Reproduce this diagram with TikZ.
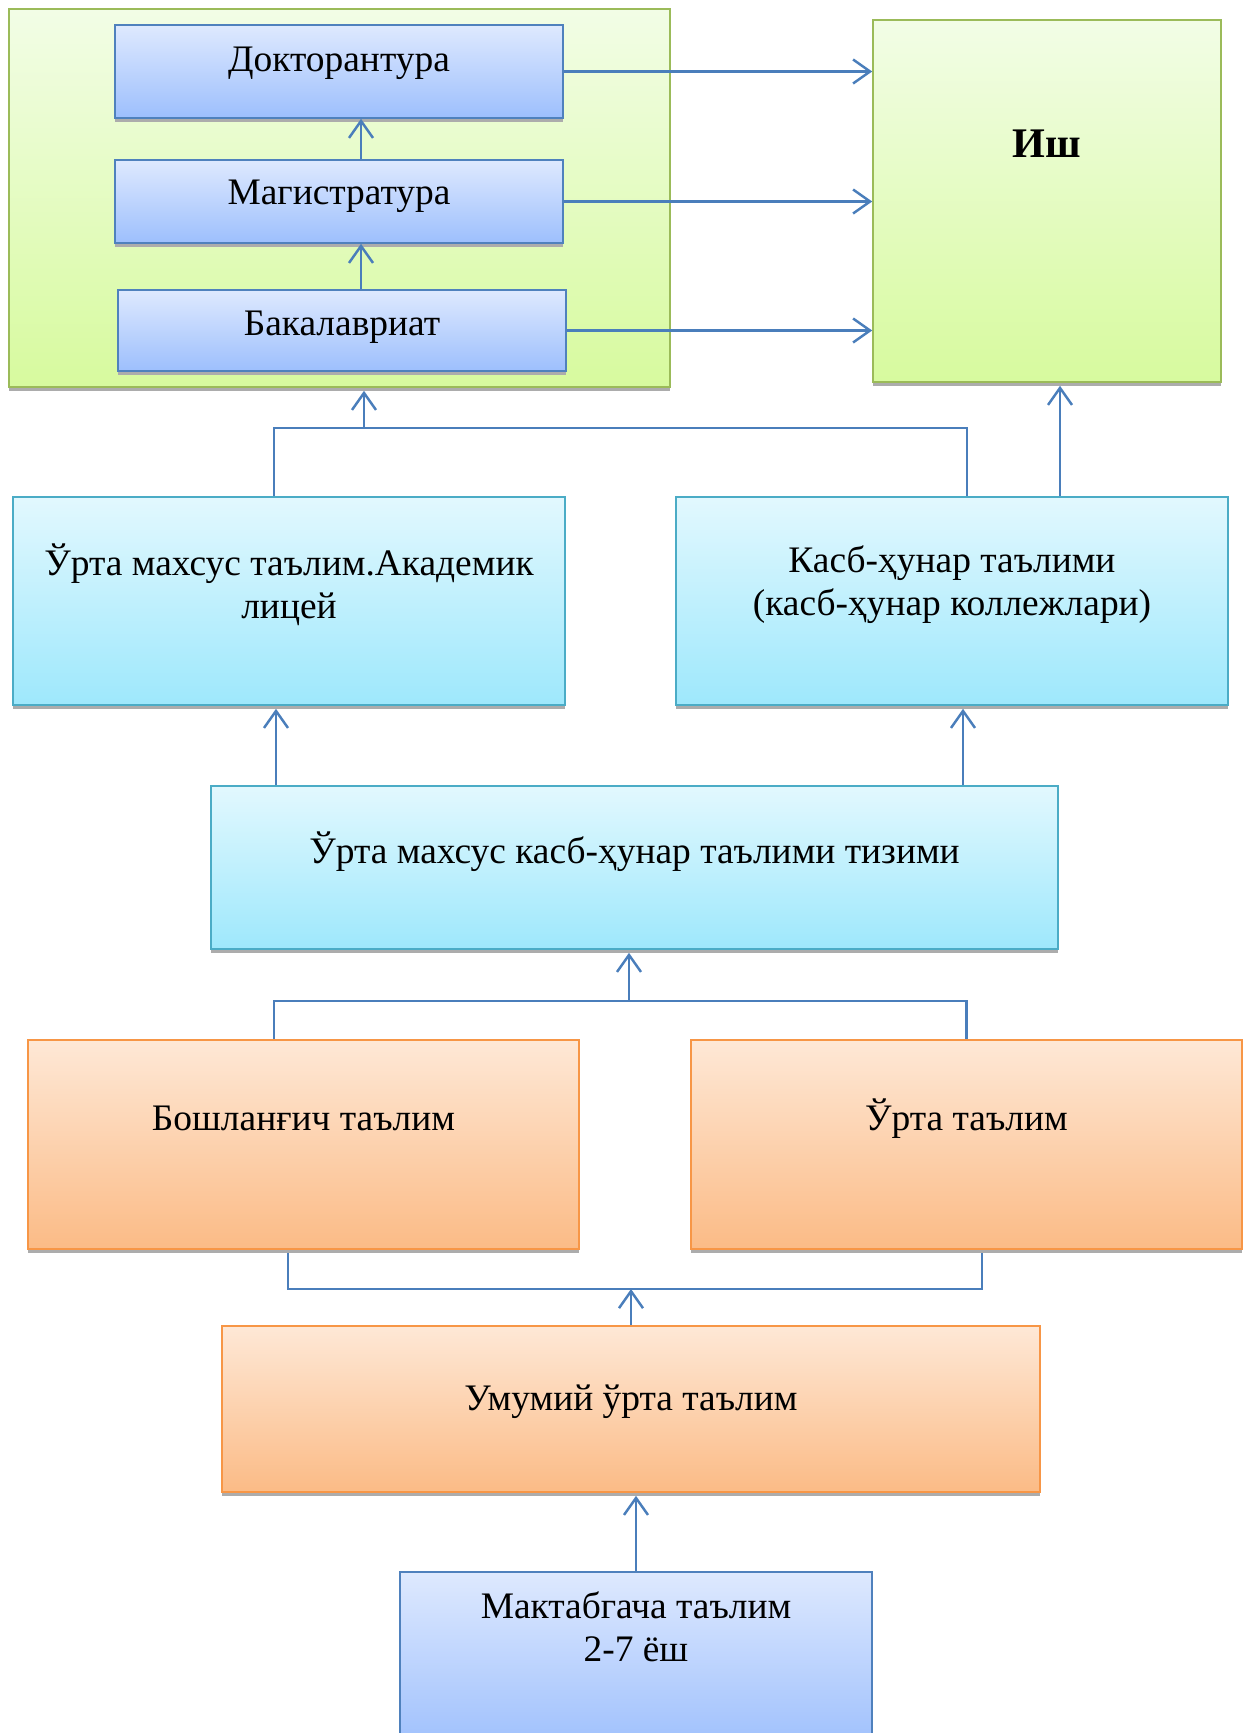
\documentclass[tikz,border=0pt]{standalone}
\usepackage{fontspec}
\setmainfont{Liberation Serif}
\usetikzlibrary{arrows.meta,shadows}
\definecolor{lnblue}{HTML}{4A7EBB}
\definecolor{grnline}{HTML}{9BBB59}
\definecolor{grntop}{HTML}{F2FDE6}
\definecolor{grnbot}{HTML}{D7FA9E}
\definecolor{bluline}{HTML}{4F81BD}
\definecolor{blutop}{HTML}{DEE9FE}
\definecolor{blubot}{HTML}{9DBFFD}
\definecolor{cynline}{HTML}{4BACC6}
\definecolor{cyntop}{HTML}{E2F8FE}
\definecolor{cynbot}{HTML}{9EE8FC}
\definecolor{orgline}{HTML}{F79646}
\definecolor{orgtop}{HTML}{FEE8D6}
\definecolor{orgbot}{HTML}{FBBB86}
\begin{document}
\begin{tikzpicture}[>={Straight Barb[length=3.4mm,width=4.8mm]},
    box/.style={draw, line width=0.9pt, general shadow={shadow yshift=-0.07cm, fill=gray!65}},
    grnbox/.style={box, draw=grnline, top color=grntop, bottom color=grnbot},
    blubox/.style={box, draw=bluline, top color=blutop, bottom color=blubot},
    cynbox/.style={box, draw=cynline, top color=cyntop, bottom color=cynbot},
    orgbox/.style={box, draw=orgline, top color=orgtop, bottom color=orgbot},
    txt/.style={font=\fontsize{21.3}{24.5}\selectfont, align=center, anchor=center},
    conn/.style={lnblue, line width=1.4pt}]
  \useasboundingbox (0,0) rectangle (25,-34.66);

  % higher education
  \node[grnbox, minimum width=13.22cm, minimum height=7.56cm] (grp) at (6.79,-3.96) {};
  \node[blubox, minimum width=8.96cm, minimum height=1.86cm,
    label={[txt,yshift=-0.79cm]north:Докторантура}] (doc) at (6.78,-1.43) {};
  \node[blubox, minimum width=8.96cm, minimum height=1.66cm,
    label={[txt,yshift=-0.75cm]north:Магистратура}] (mag) at (6.78,-4.03) {};
  \node[blubox, minimum width=8.96cm, minimum height=1.62cm,
    label={[txt,yshift=-0.77cm]north:Бакалавриат}] (bak) at (6.84,-6.61) {};
  \node[grnbox, minimum width=6.96cm, minimum height=7.24cm,
    label={[txt,yshift=-2.48cm,font=\fontsize{24}{28}\selectfont\bfseries]north:Иш}] (ish) at (20.94,-4.02) {};

  % secondary special
  \node[cynbox, minimum width=11.04cm, minimum height=4.16cm,
    label={[txt,yshift=-1.77cm]north:Ўрта махсус таълим.Академик\\лицей}] (lic) at (5.78,-12.02) {};
  \node[cynbox, minimum width=11.04cm, minimum height=4.16cm,
    label={[txt,yshift=-1.77cm]north:Касб-ҳунар таълими\\(касб-ҳунар коллежлари)}] (kol) at (19.04,-12.02) {};
  \node[cynbox, minimum width=16.94cm, minimum height=3.26cm,
    label={[txt,yshift=-1.32cm]north:Ўрта махсус касб-ҳунар таълими тизими}] (tiz) at (12.69,-17.35) {};

  % general
  \node[orgbox, minimum width=11.02cm, minimum height=4.18cm,
    label={[txt,yshift=-1.58cm]north:Бошланғич таълим}] (bosh) at (6.07,-22.89) {};
  \node[orgbox, minimum width=11.02cm, minimum height=4.18cm,
    label={[txt,yshift=-1.58cm]north:Ўрта таълим}] (urta) at (19.33,-22.89) {};
  \node[orgbox, minimum width=16.36cm, minimum height=3.32cm,
    label={[txt,yshift=-1.52cm]north:Умумий ўрта таълим}] (umum) at (12.62,-28.18) {};
  \node[blubox, minimum width=9.44cm, minimum height=3.6cm,
    label={[txt,yshift=-1.11cm]north:Мактабгача таълим\\2-7 ёш}] (mak) at (12.72,-33.24) {};

  % connectors
  \draw[conn,->] (doc.east) -- (doc.east -| ish.west);
  \draw[conn,->] (mag.east) -- (mag.east -| ish.west);
  \draw[conn,->] (bak.east) -- (bak.east -| ish.west);
  \draw[conn,->] ([xshift=0.44cm]mag.north) -- ([xshift=0.44cm]doc.south);
  \draw[conn,->] ([xshift=0.38cm]bak.north) -- ([xshift=0.44cm]mag.south);

  \coordinate (t1) at (7.28,-8.56);
  \draw[conn] ([xshift=-0.3cm]lic.north) |- (t1) -| ([xshift=0.3cm]kol.north);
  \draw[conn,->] (t1) -- ([yshift=-0.06cm]t1 |- grp.south);
  \coordinate (k1) at ([xshift=2.16cm]kol.north);
  \draw[conn,->] (k1) -- ([yshift=-0.06cm]k1 |- ish.south);

  \coordinate (m1) at ([xshift=-0.26cm]lic.south);
  \coordinate (m2) at ([xshift=0.22cm]kol.south);
  \draw[conn,->] (m1 |- tiz.north) -- ([yshift=-0.06cm]m1);
  \draw[conn,->] (m2 |- tiz.north) -- ([yshift=-0.06cm]m2);

  \coordinate (t2) at (12.58,-20.02);
  \draw[conn] ([xshift=-0.59cm]bosh.north) |- (t2) -| (urta.north);
  \draw[conn,->] (t2) -- ([yshift=-0.06cm]t2 |- tiz.south);

  \coordinate (t3) at (12.62,-25.78);
  \draw[conn] ([xshift=-0.31cm,yshift=-0.07cm]bosh.south) |- (t3) -| ([xshift=0.31cm,yshift=-0.07cm]urta.south);
  \draw[conn,->] (umum.north) -- (t3);
  \draw[conn,->] (mak.north) -- ([yshift=-0.06cm]mak.north |- umum.south);
\end{tikzpicture}
\end{document}
